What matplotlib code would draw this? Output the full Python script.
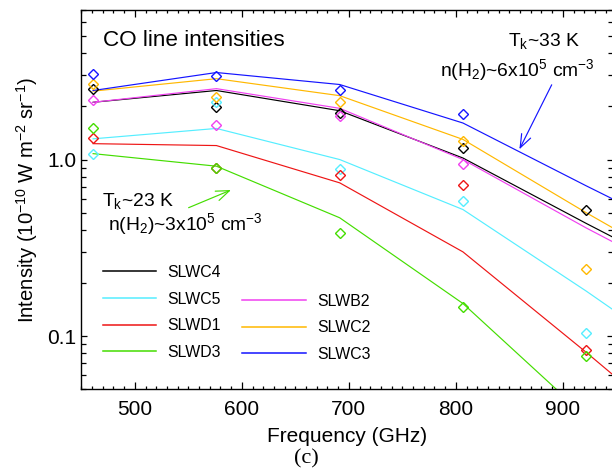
import numpy as np
import matplotlib
matplotlib.use("Agg")
import matplotlib.pyplot as plt
from matplotlib.ticker import FixedLocator, LogLocator, NullFormatter, MultipleLocator

plt.rcParams['font.family'] = ['Liberation Sans', 'DejaVu Sans']
plt.rcParams['mathtext.fontset'] = 'custom'
plt.rcParams['mathtext.rm'] = 'Liberation Sans'
plt.rcParams['mathtext.it'] = 'Liberation Sans:italic'
plt.rcParams['mathtext.bf'] = 'Liberation Sans:bold'

# CO ladder frequencies (GHz): J=4-3 ... 8-7 observed, model carried on to 9-8
freq_obs = [461.04, 576.27, 691.47, 806.65, 921.80]
freq_model = [461.04, 576.27, 691.47, 806.65, 921.80, 1036.91]

detectors = ['SLWC4', 'SLWC5', 'SLWD1', 'SLWD3', 'SLWB2', 'SLWC2', 'SLWC3']
colors = ['#000000', '#55EEFF', '#EE1515', '#44DD00', '#F040F0', '#FFB800', '#1414FF']

# observed line intensities (1e-10 W m^-2 sr^-1)
obs_SLWC4 = [2.52, 1.99, 1.84, 1.16, 0.52]
obs_SLWC5 = [1.08, 2.11, 0.886, 0.584, 0.104]
obs_SLWD1 = [1.33, 0.897, 0.815, 0.716, 0.084]
obs_SLWD3 = [1.50, 0.897, 0.385, 0.147, 0.077]
obs_SLWB2 = [2.17, 1.56, 1.76, 0.946, np.nan]
obs_SLWC2 = [2.68, 2.25, 2.13, 1.27, 0.241]
obs_SLWC3 = [3.07, 2.99, 2.49, 1.80, np.nan]

# radiative-transfer model intensities
mod_SLWC4 = [2.11, 2.46, 1.89, 1.02, 0.435, 0.19]
mod_SLWC5 = [1.31, 1.50, 1.00, 0.521, 0.18, 0.059]
mod_SLWD1 = [1.23, 1.20, 0.738, 0.30, 0.081, 0.021]
mod_SLWD3 = [1.08, 0.917, 0.468, 0.153, 0.035, 0.0079]
mod_SLWB2 = [2.11, 2.52, 1.95, 1.00, 0.41, 0.177]
mod_SLWC2 = [2.44, 2.87, 2.30, 1.30, 0.50, 0.20]
mod_SLWC3 = [2.46, 3.11, 2.66, 1.61, 0.71, 0.32]

observed = [obs_SLWC4, obs_SLWC5, obs_SLWD1, obs_SLWD3, obs_SLWB2, obs_SLWC2, obs_SLWC3]
modelled = [mod_SLWC4, mod_SLWC5, mod_SLWD1, mod_SLWD3, mod_SLWB2, mod_SLWC2, mod_SLWC3]

W, H = 612, 474
fig = plt.figure(figsize=(W / 100, H / 100), dpi=100)


def fpos(x, y):
    """pixel position (origin top-left) -> figure fraction"""
    return x / W, 1 - y / H


ax_l, ax_r, ax_t, ax_b = 81.3, 612.6, 10.3, 389.3
ax = fig.add_axes([ax_l / W, 1 - ax_b / H, (ax_r - ax_l) / W, (ax_b - ax_t) / H])

handles = {}
for name, col, mod in zip(detectors, colors, modelled):
    ln, = ax.plot(freq_model, mod, '-', color=col, lw=0.85, zorder=2)
    handles[name] = ln
for name, col, ob in zip(detectors, colors, observed):
    ax.plot(freq_obs, ob, linestyle='none', marker='D', ms=5.0, mew=1.0,
            mfc='none', mec=col, zorder=3)

ax.set_yscale('log')
ax.set_xlim(450, 946.5)
ax.set_ylim(0.05, 7.0)

ax.xaxis.set_major_locator(MultipleLocator(100))
ax.xaxis.set_minor_locator(MultipleLocator(10))
ax.yaxis.set_major_locator(FixedLocator([0.1, 1.0]))
ax.set_yticklabels(['0.1', '1.0'])
ax.yaxis.set_minor_locator(LogLocator(base=10, subs=np.arange(2, 10)))
ax.yaxis.set_minor_formatter(NullFormatter())

ax.tick_params(which='both', direction='in', top=True, right=True, width=0.9)
ax.tick_params(axis='x', which='major', length=4.8, pad=8.0, labelsize=15)
ax.tick_params(axis='x', which='minor', length=2.4)
ax.tick_params(axis='y', which='major', length=4.5, pad=3.6, labelsize=15)
ax.tick_params(axis='y', which='minor', length=3.6)
for sp in ax.spines.values():
    sp.set_linewidth(1.0)

ax.set_xlabel('Frequency (GHz)', fontsize=15, labelpad=5.5)
ax.set_ylabel(r'Intensity (10$^{-10}$ W m$^{-2}$ sr$^{-1}$)', fontsize=14.6, labelpad=5.5)

# legends: first column, second column offset one row down
leg_kw = dict(frameon=False, fontsize=11.4, borderpad=0, borderaxespad=0,
              handletextpad=0.72, labelspacing=0.73, loc='upper left',
              bbox_transform=fig.transFigure)
leg1 = ax.legend([handles[n] for n in ['SLWC4', 'SLWC5', 'SLWD1', 'SLWD3']],
                 ['SLWC4', 'SLWC5', 'SLWD1', 'SLWD3'], handlelength=3.38,
                 bbox_to_anchor=fpos(102.7, 265.0), **leg_kw)
for h in leg1.legend_handles:
    h.set_linewidth(1.1)
ax.add_artist(leg1)
leg2 = ax.legend([handles[n] for n in ['SLWB2', 'SLWC2', 'SLWC3']],
                 ['SLWB2', 'SLWC2', 'SLWC3'], handlelength=4.04,
                 bbox_to_anchor=fpos(242.0, 293.5), **leg_kw)
for h in leg2.legend_handles:
    h.set_linewidth(1.1)

# annotations
tr = fig.transFigure
ax.text(*fpos(103, 46), 'CO line intensities', fontsize=16.2, transform=tr, va='baseline')
ax.text(*fpos(508, 46), r'T$_{\rm k}$~33 K', fontsize=13.9, transform=tr, va='baseline')
ax.text(*fpos(440, 76), r'n(H$_2$)~6x10$^5$ cm$^{-3}$', fontsize=13.9,
        transform=tr, va='baseline')
ax.text(*fpos(101.7, 206), r'T$_{\rm k}$~23 K', fontsize=13.9, transform=tr, va='baseline')
ax.text(*fpos(108, 230), r'n(H$_2$)~3x10$^5$ cm$^{-3}$', fontsize=13.9,
        transform=tr, va='baseline')

arrow_kw = dict(xycoords='figure fraction', textcoords='figure fraction')
ax.annotate('', xy=fpos(519.4, 149.3), xytext=fpos(551.7, 84.8),
            arrowprops=dict(arrowstyle='->,head_length=0.8,head_width=0.3',
                            color='#1414FF', lw=0.85, shrinkA=0, shrinkB=0,
                            mutation_scale=12), **arrow_kw)
ax.annotate('', xy=fpos(231, 190), xytext=fpos(188.6, 207.7),
            arrowprops=dict(arrowstyle='->,head_length=0.8,head_width=0.3',
                            color='#44DD00', lw=0.85, shrinkA=0, shrinkB=0,
                            mutation_scale=12), **arrow_kw)

fig.text(*fpos(306, 459), '(c)', fontsize=16, family=['Liberation Serif', 'DejaVu Serif'],
         ha='center', va='center')

fig.savefig('out.png', dpi=100)
